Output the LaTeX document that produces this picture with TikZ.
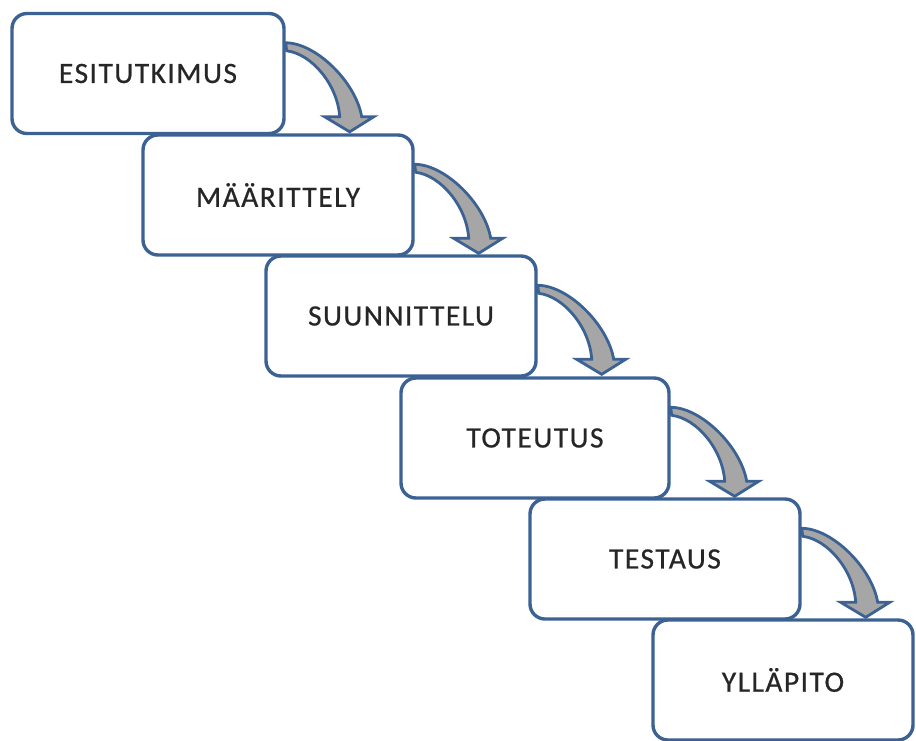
\documentclass[tikz,border=0pt]{standalone}
\usepackage{fontspec}
\setmainfont{Carlito}
\newfontfamily\stagefont[LetterSpace=5,FakeBold=0.6]{Carlito}
\definecolor{boxblue}{RGB}{60,98,148}
\definecolor{arrowgray}{RGB}{166,166,166}
\begin{document}
\begin{tikzpicture}[x=1pt,y=-1pt,
  stagebox/.style={draw=boxblue,line width=3.4pt,rounded corners=15pt,fill=white,
    minimum width=#1,minimum height=120pt,inner sep=0pt,font=\stagefont\fontsize{29.5}{32}\selectfont,text=black!85},
  stagebox/.default=270pt,
  bentarrow/.style={draw=boxblue,line width=2.8pt,fill=arrowgray,line join=miter}]
\useasboundingbox (0,0) rectangle (916,740);
\node[stagebox=272pt] (b1) at (148,73.5) {ESITUTKIMUS};
\node[stagebox] (b2) at (278,195) {MÄÄRITTELY};
\node[stagebox] (b3) at (401,316) {SUUNNITTELU};
\node[stagebox=268pt] (b4) at (535,438) {TOTEUTUS};
\node[stagebox] (b5) at (665,559) {TESTAUS};
\node[stagebox=260pt] (b6) at (783,680) {YLLÄPITO};
\foreach \a/\b in {b1/b2,b2/b3,b3/b4,b4/b5,b5/b6}{
  \draw[bentarrow] ([yshift=-31pt]\a.north east) coordinate (s)
    .. controls ([xshift=30pt]s) and ([xshift=70pt,yshift=-39pt]s) .. ([xshift=76pt,yshift=-74pt]s)
    -- ([xshift=88pt,yshift=-74pt]s)
    -- ([xshift=64pt,yshift=-89pt]s)
    -- ([xshift=39pt,yshift=-74pt]s)
    -- ([xshift=54pt,yshift=-74pt]s)
    .. controls ([xshift=52pt,yshift=-42pt]s) and ([xshift=26pt,yshift=-11pt]s) .. ([xshift=1pt,yshift=-8pt]s)
    -- cycle;
}
\end{tikzpicture}
\end{document}
